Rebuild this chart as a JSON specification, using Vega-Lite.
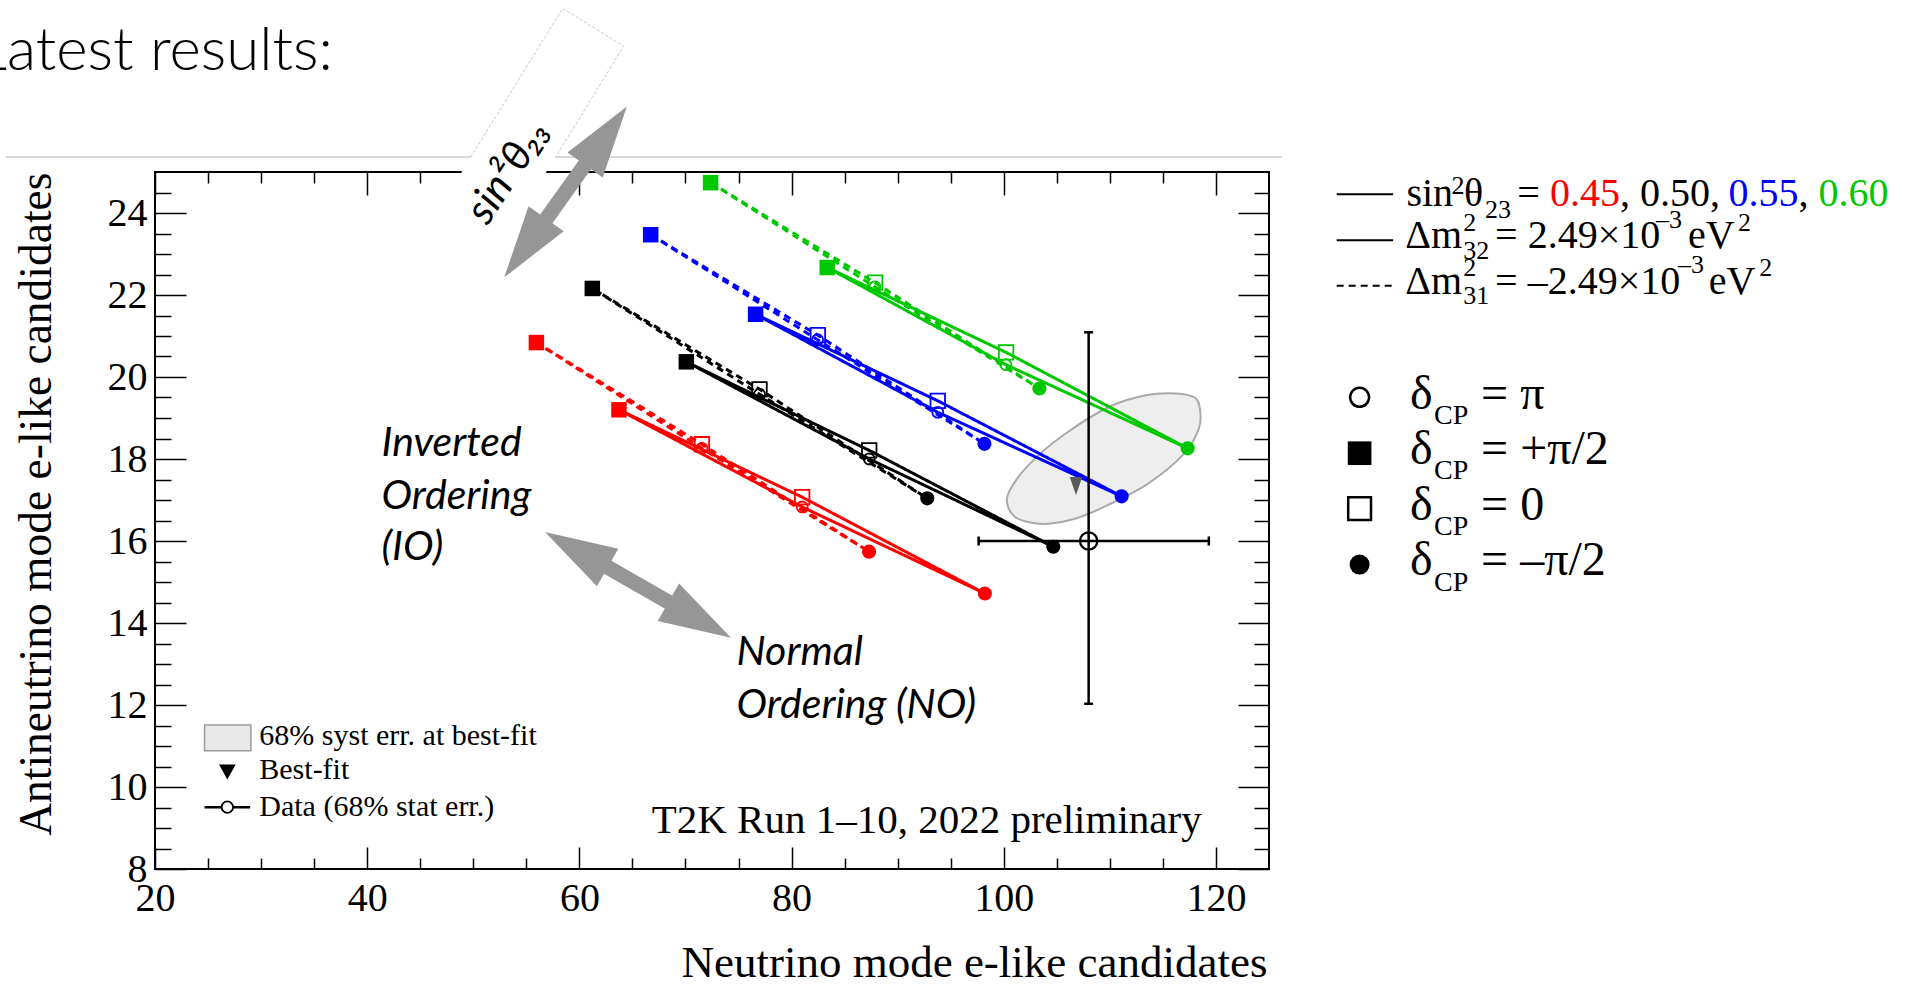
{
  "$schema": "https://vega.github.io/schema/vega-lite/v6.json",
  "width": 1114,
  "height": 697,
  "autosize": {"type": "none"},
  "padding": {"left": 155, "top": 172, "right": 643, "bottom": 115},
  "background": "white",
  "config": {"view": {"stroke": "black", "strokeWidth": 2}},
  "resolve": {"axis": {"x": "independent", "y": "independent"}},
  "datasets": {
    "curves": [
      {"s": "0.45", "o": "NO", "d": "p2", "k": 1, "x": 63.73, "y": 19.2},
      {"s": "0.45", "o": "NO", "d": "z", "k": 2, "x": 81.0, "y": 17.07},
      {"s": "0.45", "o": "NO", "d": "m2", "k": 3, "x": 98.22, "y": 14.72},
      {"s": "0.45", "o": "NO", "d": "pi", "k": 4, "x": 81.0, "y": 16.83},
      {"s": "0.45", "o": "IO", "d": "p2", "k": 1, "x": 55.95, "y": 20.84},
      {"s": "0.45", "o": "IO", "d": "z", "k": 2, "x": 71.55, "y": 18.36},
      {"s": "0.45", "o": "IO", "d": "m2", "k": 3, "x": 87.3, "y": 15.74},
      {"s": "0.45", "o": "IO", "d": "pi", "k": 4, "x": 71.55, "y": 18.26},
      {"s": "0.50", "o": "NO", "d": "p2", "k": 1, "x": 70.08, "y": 20.37},
      {"s": "0.50", "o": "NO", "d": "z", "k": 2, "x": 87.32, "y": 18.21},
      {"s": "0.50", "o": "NO", "d": "m2", "k": 3, "x": 104.67, "y": 15.86},
      {"s": "0.50", "o": "NO", "d": "pi", "k": 4, "x": 87.32, "y": 18.0},
      {"s": "0.50", "o": "IO", "d": "p2", "k": 1, "x": 61.22, "y": 22.16},
      {"s": "0.50", "o": "IO", "d": "z", "k": 2, "x": 76.98, "y": 19.7},
      {"s": "0.50", "o": "IO", "d": "m2", "k": 3, "x": 92.79, "y": 17.04},
      {"s": "0.50", "o": "IO", "d": "pi", "k": 4, "x": 76.98, "y": 19.58},
      {"s": "0.55", "o": "NO", "d": "p2", "k": 1, "x": 76.61, "y": 21.53},
      {"s": "0.55", "o": "NO", "d": "z", "k": 2, "x": 93.78, "y": 19.42},
      {"s": "0.55", "o": "NO", "d": "m2", "k": 3, "x": 111.11, "y": 17.09},
      {"s": "0.55", "o": "NO", "d": "pi", "k": 4, "x": 93.78, "y": 19.14},
      {"s": "0.55", "o": "IO", "d": "p2", "k": 1, "x": 66.72, "y": 23.47},
      {"s": "0.55", "o": "IO", "d": "z", "k": 2, "x": 82.48, "y": 21.02},
      {"s": "0.55", "o": "IO", "d": "m2", "k": 3, "x": 98.18, "y": 18.37},
      {"s": "0.55", "o": "IO", "d": "pi", "k": 4, "x": 82.45, "y": 20.91},
      {"s": "0.60", "o": "NO", "d": "p2", "k": 1, "x": 83.36, "y": 22.67},
      {"s": "0.60", "o": "NO", "d": "z", "k": 2, "x": 100.22, "y": 20.6},
      {"s": "0.60", "o": "NO", "d": "m2", "k": 3, "x": 117.33, "y": 18.26},
      {"s": "0.60", "o": "NO", "d": "pi", "k": 4, "x": 100.2, "y": 20.3},
      {"s": "0.60", "o": "IO", "d": "p2", "k": 1, "x": 72.37, "y": 24.74},
      {"s": "0.60", "o": "IO", "d": "z", "k": 2, "x": 87.88, "y": 22.3},
      {"s": "0.60", "o": "IO", "d": "m2", "k": 3, "x": 103.36, "y": 19.72},
      {"s": "0.60", "o": "IO", "d": "pi", "k": 4, "x": 87.85, "y": 22.2}
    ],
    "ell": [
      {"k": 1, "x": 100.3, "y": 16.95},
      {"k": 2, "x": 101.0, "y": 16.6},
      {"k": 3, "x": 102.5, "y": 16.45},
      {"k": 4, "x": 104.2, "y": 16.42},
      {"k": 5, "x": 106.8, "y": 16.55},
      {"k": 6, "x": 109.6, "y": 16.85},
      {"k": 7, "x": 113.5, "y": 17.38},
      {"k": 8, "x": 117.0, "y": 18.13},
      {"k": 9, "x": 118.4, "y": 18.75},
      {"k": 10, "x": 118.5, "y": 19.2},
      {"k": 11, "x": 118.0, "y": 19.5},
      {"k": 12, "x": 116.2, "y": 19.6},
      {"k": 13, "x": 113.5, "y": 19.56},
      {"k": 14, "x": 110.0, "y": 19.28},
      {"k": 15, "x": 105.6, "y": 18.58},
      {"k": 16, "x": 102.5, "y": 17.9},
      {"k": 17, "x": 100.7, "y": 17.3}
    ],
    "pt": [{"x": 108.0, "y": 16.0, "xlo": 97.63, "xhi": 119.33, "ylo": 12.03, "yhi": 21.09}],
    "heads": [
      {"h": "a1", "x": 64.48, "y": 26.6},
      {"h": "a1b", "x": 52.92, "y": 22.43},
      {"h": "a2", "x": 74.29, "y": 13.64},
      {"h": "a2b", "x": 56.76, "y": 16.22}
    ],
    "shafts": [
      {"x": 56.31, "y": 23.65, "x2": 61.09, "y2": 25.38},
      {"x": 61.84, "y": 15.48, "x2": 69.21, "y2": 14.39}
    ],
    "boxline": [
      {"k": 1, "x": 49.76, "y": 25.364},
      {"k": 2, "x": 58.43, "y": 28.99},
      {"k": 3, "x": 64.17, "y": 28.07},
      {"k": 4, "x": 57.77, "y": 25.364}
    ],
    "it": [
      {"t": "Inverted", "x": 41.35, "y": 18.07},
      {"t": "Ordering", "x": 41.35, "y": 16.79},
      {"t": "(IO)", "x": 41.35, "y": 15.53},
      {"t": "Normal", "x": 74.82, "y": 12.97},
      {"t": "Ordering (NO)", "x": 74.82, "y": 11.68}
    ],
    "leg40": [
      {"t": "sin", "x": 137.95, "y": 24.171, "s": "0.50"},
      {"t": "θ", "x": 143.39, "y": 24.171, "s": "0.50"},
      {"t": "=", "x": 148.39, "y": 24.171, "s": "0.50"},
      {"t": "0.45", "x": 151.48, "y": 24.171, "s": "0.45"},
      {"t": ", 0.50,", "x": 158.09, "y": 24.171, "s": "0.50"},
      {"t": "0.55", "x": 168.31, "y": 24.171, "s": "0.55"},
      {"t": ",", "x": 174.9, "y": 24.171, "s": "0.50"},
      {"t": "0.60", "x": 176.79, "y": 24.171, "s": "0.60"},
      {"t": "Δm", "x": 137.84, "y": 23.141, "s": "0.50"},
      {"t": "= 2.49×10", "x": 146.31, "y": 23.141, "s": "0.50"},
      {"t": "eV", "x": 164.49, "y": 23.141, "s": "0.50"},
      {"t": "Δm", "x": 137.84, "y": 22.022, "s": "0.50"},
      {"t": "= –2.49×10", "x": 146.31, "y": 22.022, "s": "0.50"},
      {"t": "eV", "x": 166.46, "y": 22.022, "s": "0.50"}
    ],
    "sm": [
      {"t": "2", "x": 142.21, "y": 24.463},
      {"t": "23", "x": 145.36, "y": 23.886},
      {"t": "2", "x": 143.3, "y": 23.562},
      {"t": "32", "x": 143.3, "y": 22.881},
      {"t": "–3", "x": 161.47, "y": 23.635},
      {"t": "2", "x": 169.2, "y": 23.562},
      {"t": "2", "x": 143.3, "y": 22.467},
      {"t": "31", "x": 143.3, "y": 21.778},
      {"t": "–3", "x": 163.54, "y": 22.54},
      {"t": "2", "x": 171.2, "y": 22.467}
    ],
    "dl": [
      {"t": "δ", "x": 138.3, "y": 19.23},
      {"t": "= π", "x": 144.99, "y": 19.23},
      {"t": "δ", "x": 138.3, "y": 17.873},
      {"t": "= +π/2", "x": 144.99, "y": 17.873},
      {"t": "δ", "x": 138.3, "y": 16.518},
      {"t": "= 0", "x": 144.99, "y": 16.518},
      {"t": "δ", "x": 138.3, "y": 15.162},
      {"t": "= –π/2", "x": 144.99, "y": 15.162}
    ],
    "cp": [
      {"t": "CP", "x": 140.56, "y": 18.857},
      {"t": "CP", "x": 140.56, "y": 17.501},
      {"t": "CP", "x": 140.56, "y": 16.145},
      {"t": "CP", "x": 140.56, "y": 14.789}
    ],
    "legmk": [
      {"m": "oc", "x": 133.54, "y": 19.505},
      {"m": "fs", "x": 133.54, "y": 18.141},
      {"m": "os", "x": 133.54, "y": 16.788},
      {"m": "fc", "x": 133.54, "y": 15.425}
    ],
    "leglines": [
      {"o": "NO", "x": 131.38, "x2": 136.7, "y": 24.456},
      {"o": "NO", "x": 131.38, "x2": 136.7, "y": 23.336},
      {"o": "IO", "x": 131.38, "x2": 136.7, "y": 22.223}
    ],
    "inleg": [
      {"t": "68% syst err. at best-fit", "x": 29.83, "y": 11.245},
      {"t": "Best-fit", "x": 29.83, "y": 10.417},
      {"t": "Data (68% stat err.)", "x": 29.83, "y": 9.524}
    ]
  },
  "layer": [
    {
      "data": {"values": [{"x1": 5.97, "x2": 126.2, "y": 25.364}]},
      "mark": {"type": "rule", "stroke": "#cccccc", "strokeWidth": 1.5},
      "encoding": {
        "x": {"field": "x1", "type": "quantitative", "scale": {"domain": [20, 125], "nice": false, "zero": false},
          "axis": {"orient": "top", "values": [20,25,30,35,40,45,50,55,60,65,70,75,80,85,90,95,100,105,110,115,120], "domain": false, "grid": false, "labels": false, "title": null,
            "tickSize": {"condition": {"test": "datum.value % 20 === 0", "value": -23}, "value": -11}, "tickWidth": 1.5, "tickColor": "black"}},
        "x2": {"field": "x2"},
        "y": {"field": "y", "type": "quantitative", "scale": {"domain": [8, 25], "nice": false, "zero": false},
          "axis": {"orient": "right", "values": [8,8.5,9,9.5,10,10.5,11,11.5,12,12.5,13,13.5,14,14.5,15,15.5,16,16.5,17,17.5,18,18.5,19,19.5,20,20.5,21,21.5,22,22.5,23,23.5,24,24.5], "domain": false, "grid": false, "labels": false, "title": null,
            "tickSize": {"condition": {"test": "datum.value % 2 === 0", "value": -31}, "value": -15}, "tickWidth": 1.5, "tickColor": "black"}}
      }
    },
    {
      "data": {"name": "ell"},
      "mark": {"type": "line", "interpolate": "cardinal-closed", "fill": "#eeeeee", "stroke": "#aaaaaa", "strokeWidth": 2},
      "encoding": {
        "x": {"field": "x", "type": "quantitative", "scale": {"domain": [20, 125], "nice": false, "zero": false},
          "axis": {"orient": "bottom", "values": [20,25,30,35,40,45,50,55,60,65,70,75,80,85,90,95,100,105,110,115,120], "domain": false, "grid": false,
            "tickSize": {"condition": {"test": "datum.value % 20 === 0", "value": -22}, "value": -11}, "tickWidth": 1.5, "tickColor": "black",
            "labelExpr": "datum.value % 20 === 0 ? format(datum.value, 'd') : ''",
            "labelFont": "Liberation Serif", "labelFontSize": 40, "labelColor": "black", "labelPadding": 31.5, "labelOverlap": false, "labelFlush": false,
            "title": "Neutrino mode e-like candidates", "titleFont": "Liberation Serif", "titleFontSize": 45, "titleFontWeight": "normal", "titleColor": "black",
            "titleAlign": "right", "titleAnchor": "end", "titleBaseline": "alphabetic", "titleX": 1112, "titleY": 107}},
        "y": {"field": "y", "type": "quantitative", "scale": {"domain": [8, 25], "nice": false, "zero": false},
          "axis": {"orient": "left", "values": [8,8.5,9,9.5,10,10.5,11,11.5,12,12.5,13,13.5,14,14.5,15,15.5,16,16.5,17,17.5,18,18.5,19,19.5,20,20.5,21,21.5,22,22.5,23,23.5,24,24.5], "domain": false, "grid": false,
            "tickSize": {"condition": {"test": "datum.value % 2 === 0", "value": -31}, "value": -16}, "tickWidth": 1.5, "tickColor": "black",
            "labelExpr": "datum.value % 2 === 0 ? format(datum.value, 'd') : ''",
            "labelFont": "Liberation Serif", "labelFontSize": 40, "labelColor": "black", "labelPadding": 39, "labelOverlap": false, "labelFlush": false,
            "title": "Antineutrino mode e-like candidates", "titleFont": "Liberation Serif", "titleFontSize": 45.5, "titleFontWeight": "normal", "titleColor": "black",
            "titleAngle": 270, "titleAlign": "right", "titleAnchor": "end", "titleBaseline": "alphabetic", "titleX": -105, "titleY": 0}},
        "order": {"field": "k", "type": "quantitative"}
      }
    },
    {
      "data": {"name": "curves"},
      "mark": {"type": "line", "interpolate": "linear-closed", "strokeWidth": 3},
      "encoding": {
        "x": {"field": "x", "type": "quantitative", "scale": {"domain": [20, 125], "nice": false, "zero": false}, "axis": null},
        "y": {"field": "y", "type": "quantitative", "scale": {"domain": [8, 25], "nice": false, "zero": false}, "axis": null},
        "color": {"field": "s", "type": "nominal", "scale": {"domain": ["0.45", "0.50", "0.55", "0.60"], "range": ["#ff0000", "#000000", "#0000ff", "#00c800"]}, "legend": null},
        "strokeDash": {"field": "o", "type": "nominal", "scale": {"domain": ["NO", "IO"], "range": [[1, 0], [7, 5]]}, "legend": null},
        "order": {"field": "k", "type": "quantitative"}
      }
    },
    {
      "data": {"name": "curves"},
      "transform": [{"filter": "datum.d === 'p2'"}],
      "mark": {"type": "point", "shape": "square", "filled": true, "size": 240, "opacity": 1},
      "encoding": {
        "x": {"field": "x", "type": "quantitative", "scale": {"domain": [20, 125], "nice": false, "zero": false}, "axis": null},
        "y": {"field": "y", "type": "quantitative", "scale": {"domain": [8, 25], "nice": false, "zero": false}, "axis": null},
        "color": {"field": "s", "type": "nominal", "scale": {"domain": ["0.45", "0.50", "0.55", "0.60"], "range": ["#ff0000", "#000000", "#0000ff", "#00c800"]}, "legend": null}
      }
    },
    {
      "data": {"name": "curves"},
      "transform": [{"filter": "datum.d === 'm2'"}],
      "mark": {"type": "point", "shape": "circle", "filled": true, "size": 200, "opacity": 1},
      "encoding": {
        "x": {"field": "x", "type": "quantitative", "scale": {"domain": [20, 125], "nice": false, "zero": false}, "axis": null},
        "y": {"field": "y", "type": "quantitative", "scale": {"domain": [8, 25], "nice": false, "zero": false}, "axis": null},
        "color": {"field": "s", "type": "nominal", "scale": {"domain": ["0.45", "0.50", "0.55", "0.60"], "range": ["#ff0000", "#000000", "#0000ff", "#00c800"]}, "legend": null}
      }
    },
    {
      "data": {"name": "curves"},
      "transform": [{"filter": "datum.d === 'z'"}],
      "mark": {"type": "point", "shape": "square", "filled": false, "size": 210, "strokeWidth": 1.8, "opacity": 1},
      "encoding": {
        "x": {"field": "x", "type": "quantitative", "scale": {"domain": [20, 125], "nice": false, "zero": false}, "axis": null},
        "y": {"field": "y", "type": "quantitative", "scale": {"domain": [8, 25], "nice": false, "zero": false}, "axis": null},
        "color": {"field": "s", "type": "nominal", "scale": {"domain": ["0.45", "0.50", "0.55", "0.60"], "range": ["#ff0000", "#000000", "#0000ff", "#00c800"]}, "legend": null}
      }
    },
    {
      "data": {"name": "curves"},
      "transform": [{"filter": "datum.d === 'pi'"}],
      "mark": {"type": "point", "shape": "circle", "filled": false, "size": 120, "strokeWidth": 1.8, "opacity": 1},
      "encoding": {
        "x": {"field": "x", "type": "quantitative", "scale": {"domain": [20, 125], "nice": false, "zero": false}, "axis": null},
        "y": {"field": "y", "type": "quantitative", "scale": {"domain": [8, 25], "nice": false, "zero": false}, "axis": null},
        "color": {"field": "s", "type": "nominal", "scale": {"domain": ["0.45", "0.50", "0.55", "0.60"], "range": ["#ff0000", "#000000", "#0000ff", "#00c800"]}, "legend": null}
      }
    },
    {
      "data": {"values": [{"x": 106.81, "y": 17.34}]},
      "mark": {"type": "point", "shape": "M-0.7,-1L0.7,-1L0,1Z", "filled": true, "size": 324, "color": "#5a5a5a", "opacity": 1},
      "encoding": {
        "x": {"field": "x", "type": "quantitative", "scale": {"domain": [20, 125], "nice": false, "zero": false}, "axis": null},
        "y": {"field": "y", "type": "quantitative", "scale": {"domain": [8, 25], "nice": false, "zero": false}, "axis": null}
      }
    },
    {
      "data": {"name": "pt"},
      "mark": {"type": "rule", "stroke": "black", "strokeWidth": 2.5},
      "encoding": {
        "x": {"field": "xlo", "type": "quantitative", "scale": {"domain": [20, 125], "nice": false, "zero": false}, "axis": null},
        "x2": {"field": "xhi"},
        "y": {"field": "y", "type": "quantitative", "scale": {"domain": [8, 25], "nice": false, "zero": false}, "axis": null}
      }
    },
    {
      "data": {"name": "pt"},
      "mark": {"type": "rule", "stroke": "black", "strokeWidth": 2.5},
      "encoding": {
        "x": {"field": "x", "type": "quantitative", "scale": {"domain": [20, 125], "nice": false, "zero": false}, "axis": null},
        "y": {"field": "ylo", "type": "quantitative", "scale": {"domain": [8, 25], "nice": false, "zero": false}, "axis": null},
        "y2": {"field": "yhi"}
      }
    },
    {
      "data": {"name": "pt"},
      "mark": {"type": "tick", "orient": "vertical", "size": 9, "thickness": 2.5, "color": "black", "opacity": 1},
      "encoding": {
        "x": {"field": "xlo", "type": "quantitative", "scale": {"domain": [20, 125], "nice": false, "zero": false}, "axis": null},
        "y": {"field": "y", "type": "quantitative", "scale": {"domain": [8, 25], "nice": false, "zero": false}, "axis": null}
      }
    },
    {
      "data": {"name": "pt"},
      "mark": {"type": "tick", "orient": "vertical", "size": 9, "thickness": 2.5, "color": "black", "opacity": 1},
      "encoding": {
        "x": {"field": "xhi", "type": "quantitative", "scale": {"domain": [20, 125], "nice": false, "zero": false}, "axis": null},
        "y": {"field": "y", "type": "quantitative", "scale": {"domain": [8, 25], "nice": false, "zero": false}, "axis": null}
      }
    },
    {
      "data": {"name": "pt"},
      "mark": {"type": "tick", "orient": "horizontal", "size": 9, "thickness": 2.5, "color": "black", "opacity": 1},
      "encoding": {
        "x": {"field": "x", "type": "quantitative", "scale": {"domain": [20, 125], "nice": false, "zero": false}, "axis": null},
        "y": {"field": "ylo", "type": "quantitative", "scale": {"domain": [8, 25], "nice": false, "zero": false}, "axis": null}
      }
    },
    {
      "data": {"name": "pt"},
      "mark": {"type": "tick", "orient": "horizontal", "size": 9, "thickness": 2.5, "color": "black", "opacity": 1},
      "encoding": {
        "x": {"field": "x", "type": "quantitative", "scale": {"domain": [20, 125], "nice": false, "zero": false}, "axis": null},
        "y": {"field": "yhi", "type": "quantitative", "scale": {"domain": [8, 25], "nice": false, "zero": false}, "axis": null}
      }
    },
    {
      "data": {"name": "pt"},
      "mark": {"type": "point", "shape": "circle", "filled": false, "size": 300, "strokeWidth": 2.2, "color": "black", "opacity": 1},
      "encoding": {
        "x": {"field": "x", "type": "quantitative", "scale": {"domain": [20, 125], "nice": false, "zero": false}, "axis": null},
        "y": {"field": "y", "type": "quantitative", "scale": {"domain": [8, 25], "nice": false, "zero": false}, "axis": null}
      }
    },
    {
      "data": {"values": [{"x": 56.29, "y": 26.42}]},
      "mark": {"type": "point", "shape": "M-0.356,-1L0.356,-1L0.356,1L-0.356,1Z", "size": 40804, "angle": 31.7, "filled": true, "color": "white", "opacity": 1},
      "encoding": {
        "x": {"field": "x", "type": "quantitative", "scale": {"domain": [20, 125], "nice": false, "zero": false}, "axis": null},
        "y": {"field": "y", "type": "quantitative", "scale": {"domain": [8, 25], "nice": false, "zero": false}, "axis": null}
      }
    },
    {
      "data": {"name": "boxline"},
      "mark": {"type": "line", "stroke": "#c8c8c8", "strokeWidth": 1, "strokeDash": [3, 2]},
      "encoding": {
        "x": {"field": "x", "type": "quantitative", "scale": {"domain": [20, 125], "nice": false, "zero": false}, "axis": null},
        "y": {"field": "y", "type": "quantitative", "scale": {"domain": [8, 25], "nice": false, "zero": false}, "axis": null},
        "order": {"field": "k", "type": "quantitative"}
      }
    },
    {
      "data": {"name": "shafts"},
      "mark": {"type": "rule", "stroke": "#969696", "strokeWidth": 15},
      "encoding": {
        "x": {"field": "x", "type": "quantitative", "scale": {"domain": [20, 125], "nice": false, "zero": false}, "axis": null},
        "y": {"field": "y", "type": "quantitative", "scale": {"domain": [8, 25], "nice": false, "zero": false}, "axis": null},
        "x2": {"field": "x2"},
        "y2": {"field": "y2"}
      }
    },
    {
      "data": {"name": "heads"},
      "transform": [{"filter": "datum.h === 'a1'"}],
      "mark": {"type": "point", "shape": "M0,0L0.6,2L-0.6,2Z", "size": 5184, "angle": 35.55, "filled": true, "color": "#969696", "opacity": 1},
      "encoding": {
        "x": {"field": "x", "type": "quantitative", "scale": {"domain": [20, 125], "nice": false, "zero": false}, "axis": null},
        "y": {"field": "y", "type": "quantitative", "scale": {"domain": [8, 25], "nice": false, "zero": false}, "axis": null}
      }
    },
    {
      "data": {"name": "heads"},
      "transform": [{"filter": "datum.h === 'a1b'"}],
      "mark": {"type": "point", "shape": "M0,0L0.6,2L-0.6,2Z", "size": 5184, "angle": 215.55, "filled": true, "color": "#969696", "opacity": 1},
      "encoding": {
        "x": {"field": "x", "type": "quantitative", "scale": {"domain": [20, 125], "nice": false, "zero": false}, "axis": null},
        "y": {"field": "y", "type": "quantitative", "scale": {"domain": [8, 25], "nice": false, "zero": false}, "axis": null}
      }
    },
    {
      "data": {"name": "heads"},
      "transform": [{"filter": "datum.h === 'a2'"}],
      "mark": {"type": "point", "shape": "M0,0L0.6,2L-0.6,2Z", "size": 5184, "angle": 119.6, "filled": true, "color": "#969696", "opacity": 1},
      "encoding": {
        "x": {"field": "x", "type": "quantitative", "scale": {"domain": [20, 125], "nice": false, "zero": false}, "axis": null},
        "y": {"field": "y", "type": "quantitative", "scale": {"domain": [8, 25], "nice": false, "zero": false}, "axis": null}
      }
    },
    {
      "data": {"name": "heads"},
      "transform": [{"filter": "datum.h === 'a2b'"}],
      "mark": {"type": "point", "shape": "M0,0L0.6,2L-0.6,2Z", "size": 5184, "angle": 299.6, "filled": true, "color": "#969696", "opacity": 1},
      "encoding": {
        "x": {"field": "x", "type": "quantitative", "scale": {"domain": [20, 125], "nice": false, "zero": false}, "axis": null},
        "y": {"field": "y", "type": "quantitative", "scale": {"domain": [8, 25], "nice": false, "zero": false}, "axis": null}
      }
    },
    {
      "data": {"values": [{"t": "sin²θ₂₃", "x": 53.25, "y": 25.02}]},
      "mark": {"type": "text", "font": "Lato", "fontStyle": "italic", "fontSize": 42, "angle": -57, "align": "center", "baseline": "middle", "color": "black"},
      "encoding": {
        "x": {"field": "x", "type": "quantitative", "scale": {"domain": [20, 125], "nice": false, "zero": false}, "axis": null},
        "y": {"field": "y", "type": "quantitative", "scale": {"domain": [8, 25], "nice": false, "zero": false}, "axis": null},
        "text": {"field": "t"}
      }
    },
    {
      "data": {"name": "it"},
      "mark": {"type": "text", "font": "Lato", "fontStyle": "italic", "fontSize": 41, "align": "left", "baseline": "alphabetic", "color": "black"},
      "encoding": {
        "x": {"field": "x", "type": "quantitative", "scale": {"domain": [20, 125], "nice": false, "zero": false}, "axis": null},
        "y": {"field": "y", "type": "quantitative", "scale": {"domain": [8, 25], "nice": false, "zero": false}, "axis": null},
        "text": {"field": "t"}
      }
    },
    {
      "data": {"values": [{"t": "Latest results:", "x": 36.77, "y": 27.5}]},
      "mark": {"type": "text", "font": "Lato", "fontWeight": 300, "fontSize": 60, "align": "right", "baseline": "alphabetic", "color": "black"},
      "encoding": {
        "x": {"field": "x", "type": "quantitative", "scale": {"domain": [20, 125], "nice": false, "zero": false}, "axis": null},
        "y": {"field": "y", "type": "quantitative", "scale": {"domain": [8, 25], "nice": false, "zero": false}, "axis": null},
        "text": {"field": "t"}
      }
    },
    {
      "data": {"values": [{"t": "T2K Run 1–10, 2022 preliminary", "x": 66.81, "y": 8.876}]},
      "mark": {"type": "text", "font": "Liberation Serif", "fontSize": 41, "align": "left", "baseline": "alphabetic", "color": "black"},
      "encoding": {
        "x": {"field": "x", "type": "quantitative", "scale": {"domain": [20, 125], "nice": false, "zero": false}, "axis": null},
        "y": {"field": "y", "type": "quantitative", "scale": {"domain": [8, 25], "nice": false, "zero": false}, "axis": null},
        "text": {"field": "t"}
      }
    },
    {
      "data": {"values": [{"x": 24.67, "x2": 29.04, "y": 10.887, "y2": 11.513}]},
      "mark": {"type": "rect", "fill": "#e8e8e8", "stroke": "#999999", "strokeWidth": 1.5},
      "encoding": {
        "x": {"field": "x", "type": "quantitative", "scale": {"domain": [20, 125], "nice": false, "zero": false}, "axis": null},
        "x2": {"field": "x2"},
        "y": {"field": "y", "type": "quantitative", "scale": {"domain": [8, 25], "nice": false, "zero": false}, "axis": null},
        "y2": {"field": "y2"}
      }
    },
    {
      "data": {"values": [{"x": 26.82, "y": 10.376}]},
      "mark": {"type": "point", "shape": "M-1,-0.85L1,-0.85L0,0.95Z", "size": 276, "filled": true, "color": "black", "opacity": 1},
      "encoding": {
        "x": {"field": "x", "type": "quantitative", "scale": {"domain": [20, 125], "nice": false, "zero": false}, "axis": null},
        "y": {"field": "y", "type": "quantitative", "scale": {"domain": [8, 25], "nice": false, "zero": false}, "axis": null}
      }
    },
    {
      "data": {"values": [{"x": 24.67, "x2": 28.97, "y": 9.509}]},
      "mark": {"type": "rule", "stroke": "black", "strokeWidth": 2.5},
      "encoding": {
        "x": {"field": "x", "type": "quantitative", "scale": {"domain": [20, 125], "nice": false, "zero": false}, "axis": null},
        "x2": {"field": "x2"},
        "y": {"field": "y", "type": "quantitative", "scale": {"domain": [8, 25], "nice": false, "zero": false}, "axis": null}
      }
    },
    {
      "data": {"values": [{"x": 26.82, "y": 9.509}]},
      "mark": {"type": "point", "shape": "circle", "size": 130, "filled": true, "fill": "white", "stroke": "black", "strokeWidth": 1.8, "opacity": 1},
      "encoding": {
        "x": {"field": "x", "type": "quantitative", "scale": {"domain": [20, 125], "nice": false, "zero": false}, "axis": null},
        "y": {"field": "y", "type": "quantitative", "scale": {"domain": [8, 25], "nice": false, "zero": false}, "axis": null}
      }
    },
    {
      "data": {"name": "inleg"},
      "mark": {"type": "text", "font": "Liberation Serif", "fontSize": 30, "align": "left", "baseline": "middle", "color": "black"},
      "encoding": {
        "x": {"field": "x", "type": "quantitative", "scale": {"domain": [20, 125], "nice": false, "zero": false}, "axis": null},
        "y": {"field": "y", "type": "quantitative", "scale": {"domain": [8, 25], "nice": false, "zero": false}, "axis": null},
        "text": {"field": "t"}
      }
    },
    {
      "data": {"name": "leglines"},
      "mark": {"type": "rule", "stroke": "black", "strokeWidth": 2},
      "encoding": {
        "x": {"field": "x", "type": "quantitative", "scale": {"domain": [20, 125], "nice": false, "zero": false}, "axis": null},
        "x2": {"field": "x2"},
        "y": {"field": "y", "type": "quantitative", "scale": {"domain": [8, 25], "nice": false, "zero": false}, "axis": null},
        "strokeDash": {"field": "o", "type": "nominal", "scale": {"domain": ["NO", "IO"], "range": [[1, 0], [7, 5]]}, "legend": null}
      }
    },
    {
      "data": {"name": "legmk"},
      "transform": [{"filter": "datum.m === 'oc'"}],
      "mark": {"type": "point", "shape": "circle", "size": 360, "filled": false, "strokeWidth": 2.5, "color": "black", "opacity": 1},
      "encoding": {
        "x": {"field": "x", "type": "quantitative", "scale": {"domain": [20, 125], "nice": false, "zero": false}, "axis": null},
        "y": {"field": "y", "type": "quantitative", "scale": {"domain": [8, 25], "nice": false, "zero": false}, "axis": null}
      }
    },
    {
      "data": {"name": "legmk"},
      "transform": [{"filter": "datum.m === 'fs'"}],
      "mark": {"type": "point", "shape": "square", "size": 560, "filled": true, "color": "black", "opacity": 1},
      "encoding": {
        "x": {"field": "x", "type": "quantitative", "scale": {"domain": [20, 125], "nice": false, "zero": false}, "axis": null},
        "y": {"field": "y", "type": "quantitative", "scale": {"domain": [8, 25], "nice": false, "zero": false}, "axis": null}
      }
    },
    {
      "data": {"name": "legmk"},
      "transform": [{"filter": "datum.m === 'os'"}],
      "mark": {"type": "point", "shape": "square", "size": 520, "filled": false, "strokeWidth": 2.5, "color": "black", "opacity": 1},
      "encoding": {
        "x": {"field": "x", "type": "quantitative", "scale": {"domain": [20, 125], "nice": false, "zero": false}, "axis": null},
        "y": {"field": "y", "type": "quantitative", "scale": {"domain": [8, 25], "nice": false, "zero": false}, "axis": null}
      }
    },
    {
      "data": {"name": "legmk"},
      "transform": [{"filter": "datum.m === 'fc'"}],
      "mark": {"type": "point", "shape": "circle", "size": 400, "filled": true, "color": "black", "opacity": 1},
      "encoding": {
        "x": {"field": "x", "type": "quantitative", "scale": {"domain": [20, 125], "nice": false, "zero": false}, "axis": null},
        "y": {"field": "y", "type": "quantitative", "scale": {"domain": [8, 25], "nice": false, "zero": false}, "axis": null}
      }
    },
    {
      "data": {"name": "leg40"},
      "mark": {"type": "text", "font": "Liberation Serif", "fontSize": 40, "align": "left", "baseline": "alphabetic"},
      "encoding": {
        "x": {"field": "x", "type": "quantitative", "scale": {"domain": [20, 125], "nice": false, "zero": false}, "axis": null},
        "y": {"field": "y", "type": "quantitative", "scale": {"domain": [8, 25], "nice": false, "zero": false}, "axis": null},
        "text": {"field": "t"},
        "color": {"field": "s", "type": "nominal", "scale": {"domain": ["0.45", "0.50", "0.55", "0.60"], "range": ["#ff0000", "#000000", "#0000ff", "#00c800"]}, "legend": null}
      }
    },
    {
      "data": {"name": "sm"},
      "mark": {"type": "text", "font": "Liberation Serif", "fontSize": 26, "align": "left", "baseline": "alphabetic", "color": "black"},
      "encoding": {
        "x": {"field": "x", "type": "quantitative", "scale": {"domain": [20, 125], "nice": false, "zero": false}, "axis": null},
        "y": {"field": "y", "type": "quantitative", "scale": {"domain": [8, 25], "nice": false, "zero": false}, "axis": null},
        "text": {"field": "t"}
      }
    },
    {
      "data": {"name": "dl"},
      "mark": {"type": "text", "font": "Liberation Serif", "fontSize": 48, "align": "left", "baseline": "alphabetic", "color": "black"},
      "encoding": {
        "x": {"field": "x", "type": "quantitative", "scale": {"domain": [20, 125], "nice": false, "zero": false}, "axis": null},
        "y": {"field": "y", "type": "quantitative", "scale": {"domain": [8, 25], "nice": false, "zero": false}, "axis": null},
        "text": {"field": "t"}
      }
    },
    {
      "data": {"name": "cp"},
      "mark": {"type": "text", "font": "Liberation Serif", "fontSize": 28, "align": "left", "baseline": "alphabetic", "color": "black"},
      "encoding": {
        "x": {"field": "x", "type": "quantitative", "scale": {"domain": [20, 125], "nice": false, "zero": false}, "axis": null},
        "y": {"field": "y", "type": "quantitative", "scale": {"domain": [8, 25], "nice": false, "zero": false}, "axis": null},
        "text": {"field": "t"}
      }
    }
  ]
}
